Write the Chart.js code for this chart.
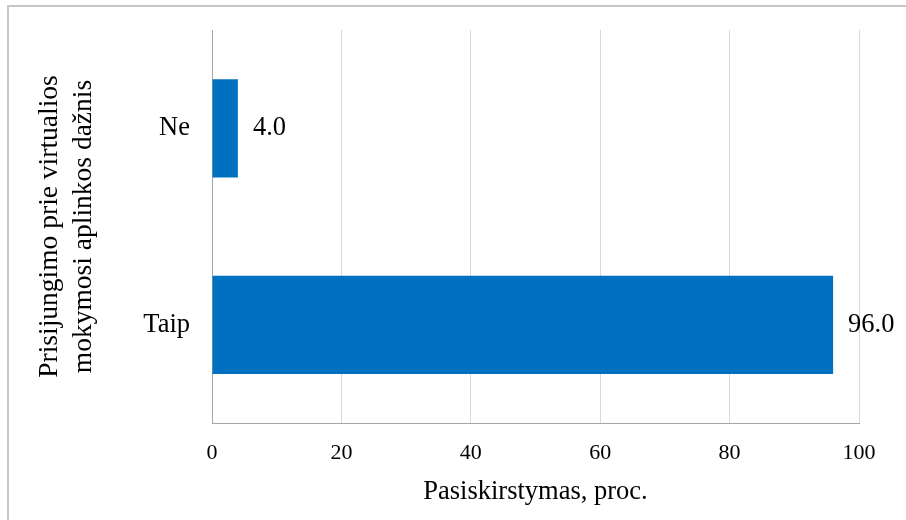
<!DOCTYPE html>
<html>
<head>
<meta charset="utf-8">
<script src="https://cdn.jsdelivr.net/npm/chart.js@4/dist/chart.umd.min.js"></script>
<style>
  html, body { margin: 0; padding: 0; background: #fff; }
  #wrap { width: 906px; height: 520px; position: relative; }
</style>
</head>
<body>
<div id="wrap"><canvas id="c" width="906" height="520"></canvas></div>
<script>
// Categories and shares (percent)
const categories = ['Ne', 'Taip'];
const shares = [4.0, 96.0];
const xTicks = [0, 20, 40, 60, 80, 100];
const yTitle = ['Prisijungimo prie virtualios', 'mokymosi aplinkos dažnis'];
const xTitle = 'Pasiskirstymas, proc.';

const FONT = "'Liberation Serif', 'Times New Roman', serif";

// White background plus the frame along the top and left edges
const framePlugin = {
  id: 'frame',
  beforeDraw(chart) {
    const ctx = chart.ctx;
    ctx.save();
    ctx.fillStyle = '#ffffff';
    ctx.fillRect(0, 0, chart.width, chart.height);
    ctx.fillStyle = '#c6c6c6';
    ctx.fillRect(7, 5, chart.width - 7, 2);
    ctx.fillRect(7, 5, 2, chart.height - 5);
    ctx.restore();
  }
};

// Value labels to the right of each bar
const valueLabels = {
  id: 'valueLabels',
  afterDatasetsDraw(chart) {
    const ctx = chart.ctx;
    const meta = chart.getDatasetMeta(0);
    ctx.save();
    ctx.font = '26.5px ' + FONT;
    ctx.fillStyle = '#000';
    ctx.textAlign = 'left';
    ctx.textBaseline = 'middle';
    meta.data.forEach((bar, i) => {
      const v = chart.data.datasets[0].data[i];
      ctx.fillText(v.toFixed(1), bar.x + 15, bar.y);
    });
    ctx.restore();
  }
};

new Chart(document.getElementById('c'), {
  type: 'bar',
  data: {
    labels: categories,
    datasets: [{
      data: shares,
      backgroundColor: '#0070C0',
      borderWidth: 0,
      categoryPercentage: 0.5,
      barPercentage: 1.0
    }]
  },
  options: {
    indexAxis: 'y',
    responsive: false,
    animation: false,
    devicePixelRatio: 1,
    layout: { padding: { top: 30, left: 0, right: 47, bottom: 0 } },
    plugins: {
      legend: { display: false },
      tooltip: { enabled: false }
    },
    scales: {
      x: {
        min: 0,
        max: 100,
        afterBuildTicks(scale) { scale.ticks = xTicks.map(v => ({ value: v })); },
        afterFit(scale) { scale.height = 97; },
        grid: { color: '#d9d9d9', lineWidth: 1, drawTicks: false },
        border: { display: true, color: '#a6a6a6', width: 1 },
        ticks: {
          color: '#000',
          font: { family: FONT, size: 22 },
          padding: 17
        },
        title: {
          display: true,
          text: xTitle,
          color: '#000',
          font: { family: FONT, size: 26.5, lineHeight: 1.2 },
          padding: { top: 0, bottom: 12 }
        }
      },
      y: {
        afterFit(scale) {
          scale.width = 212;
          scale.paddingTop = 0;
          scale.paddingBottom = 0;
        },
        grid: { display: false, drawTicks: false },
        border: { display: true, color: '#a6a6a6', width: 1 },
        ticks: {
          color: '#000',
          font: { family: FONT, size: 26.5 },
          padding: 22
        },
        title: {
          display: true,
          text: yTitle,
          color: '#000',
          font: { family: FONT, size: 27.5, lineHeight: 1.21 },
          padding: { top: 33.5, bottom: 0 }
        }
      }
    }
  },
  plugins: [framePlugin, valueLabels]
});
</script>
</body>
</html>
